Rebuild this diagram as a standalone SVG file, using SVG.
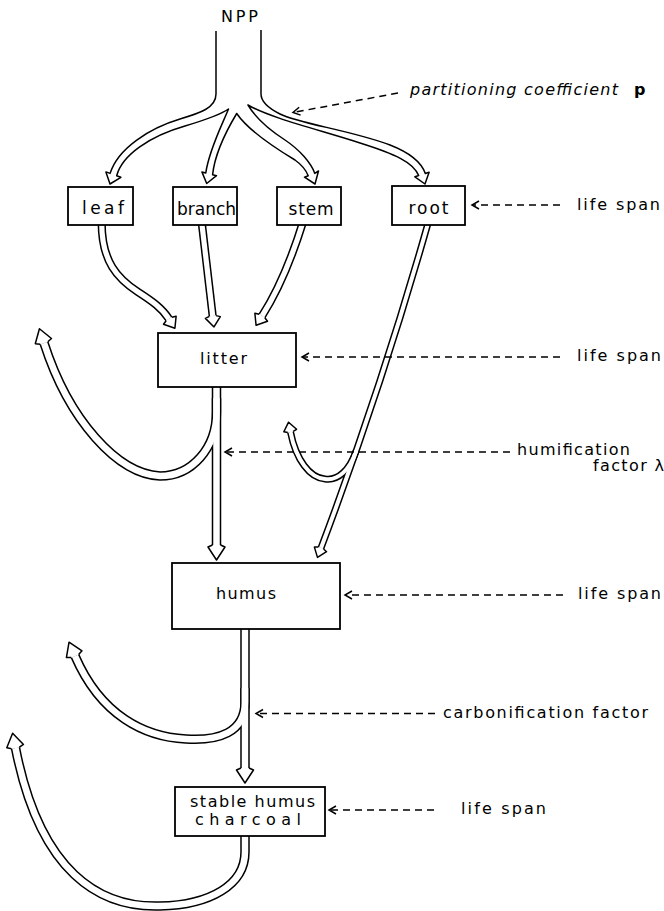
<svg xmlns="http://www.w3.org/2000/svg" width="664" height="911" viewBox="0 0 664 911">
<style>
text{font-family:"DejaVu Sans","Liberation Sans",sans-serif;font-size:16px;fill:#000}
.t16{font-size:17px}
.it{font-style:italic}
.bd{font-weight:bold}
.box{fill:#fff;stroke:#000;stroke-width:1.8}
.k8{fill:none;stroke:#000;stroke-width:9.5}
.w8{fill:none;stroke:#fff;stroke-width:6.5;marker-end:url(#hL)}
.k7{fill:none;stroke:#000;stroke-width:8.2}
.w7{fill:none;stroke:#fff;stroke-width:5.2;marker-end:url(#hM)}
.k6{fill:none;stroke:#000;stroke-width:7}
.w6{fill:none;stroke:#fff;stroke-width:4;marker-end:url(#hS)}
.fan{fill:none;stroke:#000;stroke-width:1.5;stroke-linejoin:round}
.dash{fill:none;stroke:#000;stroke-width:1.5;stroke-dasharray:7 5;marker-end:url(#dh)}
.head{fill:#fff;stroke:#000;stroke-width:1.5;stroke-linejoin:round}
.chev{fill:none;stroke:#000;stroke-width:1.5}
</style>
<defs>
<marker id="hL" markerUnits="userSpaceOnUse" orient="auto" viewBox="-20 -20 40 40" markerWidth="40" markerHeight="40" refX="0" refY="0"><path class="head" d="M0,-4 L2,-8.5 L15,0 L2,8.5 L0,4"/></marker>
<marker id="hM" markerUnits="userSpaceOnUse" orient="auto" viewBox="-20 -20 40 40" markerWidth="40" markerHeight="40" refX="0" refY="0"><path class="head" d="M0,-3.35 L1.5,-7.5 L11,0 L1.5,7.5 L0,3.35"/></marker>
<marker id="hS" markerUnits="userSpaceOnUse" orient="auto" viewBox="-20 -20 40 40" markerWidth="40" markerHeight="40" refX="0" refY="0"><path class="head" d="M0,-2.75 L1.5,-6.5 L10,0 L1.5,6.5 L0,2.75"/></marker>
<marker id="dh" markerUnits="userSpaceOnUse" orient="auto" viewBox="-20 -20 40 40" markerWidth="40" markerHeight="40" refX="0" refY="0"><path class="chev" d="M7,-4 L0,0 L7,4" transform="scale(-1,1)"/></marker>
<path id="pLeaf" d="M101.7,222 C101.5,262 118,279 138,292 C152,301 162,308 169,319"/>
<path id="pBranch" d="M201.7,222 L212.7,316"/>
<path id="pStem" d="M303,222 Q285,280 262,316"/>
<path id="pRoot" d="M427.8,224 Q382,386 321,548"/>
<path id="pHum" d="M356.2,450.8 C349.5,470.1 338,481 325,479 C310,478 296,460 290.5,432"/>
<path id="pLH" d="M216.5,384 V545"/>
<path id="pLB" d="M216.5,398 V412 C216.5,448 192,476 160,476 C118,474 69,421 44,343"/>
<path id="pHS" d="M245,626 V768"/>
<path id="pCB" d="M245,688 V702 C245,733 218,741 186,739 C145,737 101,716 75,656"/>
<path id="pBL" d="M245,833 V852 C245,885 210,905 160,906 C100,908 40,873 15.5,748"/>
</defs>
<g id="connectors">
<path id="fan" class="fan" d="M216,31 V94 C216,108 200,113 180,119 C150,128 118,148 110.1,173.4 L105.9,171.9 L110,184 L120.9,177.3 L116.7,175.8 C122,155 150,136 185,126 C205,120 220,115 228.5,109 C222,125 209,150 205.8,172.9 L201.9,171.9 L206.7,183.5 L216.5,175.7 L212.6,174.7 C215,152 228,128 236.7,113.5 C248,130 275,148 295,160 C302,165 306,170 308.2,175.8 L304.5,177.2 L315,184 L318.5,171 L314.8,173.4 C311,163 300,150 285,140 C268,129 255,117 248,105 C270,118 320,130 360,143 C395,154 413,162 418.7,175.5 L414.9,176.8 L425,184 L429.1,172.3 L425.3,173.5 C421,161 408,152 390,145 C350,130 300,124 280,114 C266,107 261,101 261,94 V30"/>
<use href="#pLeaf" class="k7"/>
<use href="#pBranch" class="k7"/>
<use href="#pStem" class="k7"/>
<use href="#pRoot" class="k6"/>
<use href="#pHum" class="k6"/>
<use href="#pLH" class="k8"/>
<use href="#pLB" class="k8"/>
<use href="#pHS" class="k8"/>
<use href="#pCB" class="k8"/>
<use href="#pBL" class="k8"/>
<use href="#pLeaf" class="w7"/>
<use href="#pBranch" class="w7"/>
<use href="#pStem" class="w7"/>
<use href="#pRoot" class="w6"/>
<use href="#pHum" class="w6"/>
<use href="#pLH" class="w8"/>
<use href="#pLB" class="w8"/>
<use href="#pHS" class="w8"/>
<use href="#pCB" class="w8"/>
<use href="#pBL" class="w8"/>
<path class="dash" d="M398,93 L293,112.5"/>
<path class="dash" d="M560,205 L472,205"/>
<path class="dash" d="M560,357 L302,357"/>
<path class="dash" d="M510,452 L225,452"/>
<path class="dash" d="M563,595 L345,595"/>
<path class="dash" d="M435,713.5 L256,713.5"/>
<path class="dash" d="M434,810 L329,810"/>
</g>
<g id="npp"><text x="221" y="22" textLength="37">NPP</text></g>
<g id="leaf"><rect class="box" x="68" y="187" width="65" height="38"/><text class="t16" x="82" y="214" textLength="42">leaf</text></g>
<g id="branch"><rect class="box" x="173" y="187" width="64" height="38"/><text class="t16" x="177" y="215" textLength="59">branch</text></g>
<g id="stem"><rect class="box" x="277" y="187" width="64" height="38"/><text class="t16" x="288.5" y="215" textLength="45">stem</text></g>
<g id="root"><rect class="box" x="392" y="186" width="73" height="39"/><text class="t16" x="408.5" y="214" textLength="40">root</text></g>
<g id="litter"><rect class="box" x="158" y="333" width="138" height="54"/><text x="200" y="363.5" textLength="47">litter</text></g>
<g id="humus"><rect class="box" x="172" y="563" width="168" height="66"/><text x="216" y="598.5" textLength="60">humus</text></g>
<g id="stable"><rect class="box" x="175" y="787" width="150" height="49"/><text x="190" y="806.5" textLength="125">stable humus</text><text x="195" y="825" textLength="106">charcoal</text></g>
<g id="labels">
<text class="it" x="410" y="95" textLength="208">partitioning coefficient</text>
<text class="bd" x="634" y="95">p</text>
<text x="577" y="210" textLength="83">life span</text>
<text x="577" y="361" textLength="84">life span</text>
<text x="517" y="455" textLength="113">humification</text>
<text x="593" y="470.5" textLength="71">factor λ</text>
<text x="578" y="599" textLength="83">life span</text>
<text x="443" y="717.5" textLength="205">carbonification factor</text>
<text x="461" y="814" textLength="85">life span</text>
</g>
</svg>
